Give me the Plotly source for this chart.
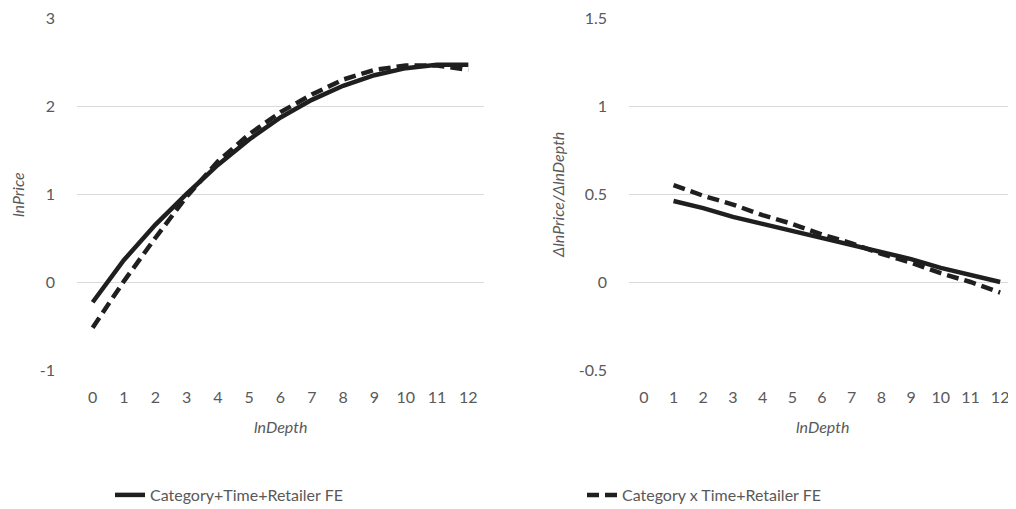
import plotly.graph_objects as go

ln_depth = list(range(13))
# Left panel: lnPrice fitted curves
lnprice_fe1 = [-0.23, 0.25, 0.65, 1.00, 1.33, 1.62, 1.87, 2.07, 2.23, 2.35, 2.43, 2.47, 2.47]
lnprice_fe2 = [-0.52, 0.01, 0.50, 0.97, 1.37, 1.68, 1.93, 2.13, 2.30, 2.41, 2.46, 2.46, 2.41]
# Right panel: elasticity (starts at lnDepth = 1)
ln_depth_r = list(range(1, 13))
elast_fe1 = [0.46, 0.42, 0.37, 0.33, 0.29, 0.25, 0.21, 0.17, 0.13, 0.08, 0.04, 0.00]
elast_fe2 = [0.55, 0.49, 0.44, 0.38, 0.33, 0.27, 0.22, 0.16, 0.11, 0.05, 0.00, -0.06]

name1 = "Category+Time+Retailer FE"
name2 = "Category x Time+Retailer FE"
tick_labels = [str(v) for v in ln_depth]

# The page body adds an 8px margin; size the figure so it fits the 1016x509 window.
OFF = 8
W, H = 1016 - OFF, 509 - OFF
FONT = "Lato, 'Open Sans', sans-serif"
GRAY = "#595959"
LINE = "#1f1f1f"


def px(x):
    return (x - OFF) / W


def py(y):
    return 1 - (y - OFF) / H


fig = go.Figure()
fig.add_trace(go.Scatter(x=ln_depth, y=lnprice_fe1, mode="lines", name=name1,
                         line=dict(color=LINE, width=4.5), xaxis="x", yaxis="y",
                         legend="legend", showlegend=True))
fig.add_trace(go.Scatter(x=ln_depth, y=lnprice_fe2, mode="lines", name=name2,
                         line=dict(color=LINE, width=4.5, dash="12px,6px"), xaxis="x", yaxis="y",
                         legend="legend2", showlegend=True))
fig.add_trace(go.Scatter(x=ln_depth_r, y=elast_fe1, mode="lines", name=name1,
                         line=dict(color=LINE, width=4.5), xaxis="x2", yaxis="y2",
                         showlegend=False))
fig.add_trace(go.Scatter(x=ln_depth_r, y=elast_fe2, mode="lines", name=name2,
                         line=dict(color=LINE, width=4.5, dash="12px,6px"), xaxis="x2", yaxis="y2",
                         showlegend=False))

ydom = [py(371), py(17)]
xaxis_common = dict(range=[-0.5, 12.5], tickvals=ln_depth, ticktext=tick_labels,
                    showgrid=False, zeroline=False, showline=False, automargin=False,
                    tickfont=dict(family=FONT, size=16, color=GRAY), ticklabeloverflow="allow",
                    ticks="", ticklabelstandoff=15, fixedrange=True)
yaxis_common = dict(showgrid=True, gridcolor="#d9d9d9", gridwidth=1, zeroline=False,
                    showline=False, automargin=False, tickfont=dict(family=FONT, size=16, color=GRAY),
                    ticklabeloverflow="allow",
                    ticks="", ticklabelstandoff=21, domain=ydom)
ann_font = dict(family=FONT, size=16, color=GRAY)

pad1 = 4 / 352
pad2 = 2 / 352

fig.update_layout(
    template="none",
    width=W, height=H,
    margin=dict(l=0, r=0, t=0, b=0, autoexpand=False),
    paper_bgcolor="white", plot_bgcolor="white",
    font=dict(family=FONT, size=16, color=GRAY),
    xaxis=dict(domain=[px(77), px(484)], anchor="y", **xaxis_common),
    yaxis=dict(anchor="x", range=[-1 - pad1, 3 + pad1], tickvals=[-1, 0, 1, 2, 3],
               ticktext=["-1", "0", "1", "2", "3"], **yaxis_common),
    xaxis2=dict(domain=[px(629), px(1015)], anchor="y2", **xaxis_common),
    yaxis2=dict(anchor="x2", range=[-0.5 - pad2, 1.5 + pad2], tickvals=[-0.5, 0, 0.5, 1, 1.5],
                ticktext=["-0.5", "0", "0.5", "1", "1.5"], **yaxis_common),
    legend=dict(x=px(110), y=py(495), xanchor="left", yanchor="middle",
                bgcolor="rgba(0,0,0,0)", font=dict(family=FONT, size=16, color=GRAY),
                itemwidth=30, tracegroupgap=0),
    legend2=dict(x=px(582), y=py(495), xanchor="left", yanchor="middle",
                 bgcolor="rgba(0,0,0,0)", font=dict(family=FONT, size=16, color=GRAY),
                 itemwidth=30, tracegroupgap=0),
    annotations=[
        dict(text="<i>lnPrice</i>", x=px(17), y=py(195), xref="paper", yref="paper",
             xanchor="center", yanchor="middle", textangle=-90, showarrow=False, font=ann_font),
        dict(text="<i>lnDepth</i>", x=px(280), y=py(426), xref="paper", yref="paper",
             xanchor="center", yanchor="middle", showarrow=False, font=ann_font),
        dict(text="<i>ΔlnPrice/ΔlnDepth</i>", x=px(557), y=py(195), xref="paper", yref="paper",
             xanchor="center", yanchor="middle", textangle=-90, showarrow=False, font=ann_font),
        dict(text="<i>lnDepth</i>", x=px(822), y=py(426), xref="paper", yref="paper",
             xanchor="center", yanchor="middle", showarrow=False, font=ann_font),
    ],
)

fig.write_html("out.html")
